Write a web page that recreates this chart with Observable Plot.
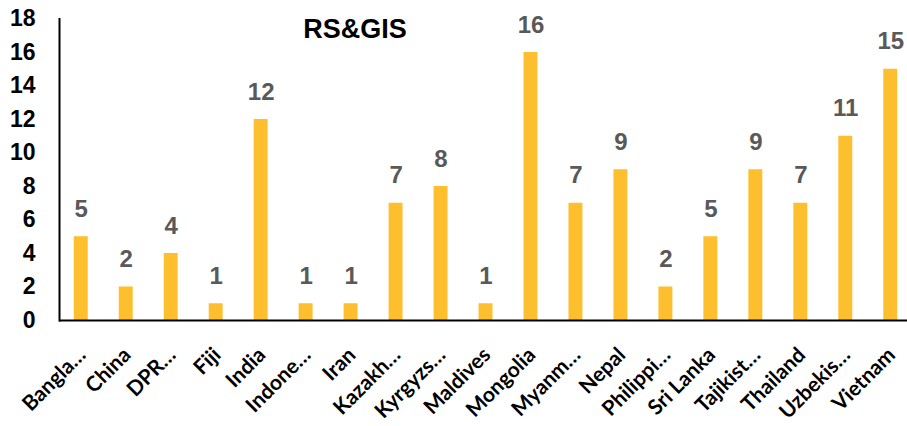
<!DOCTYPE html>
<html>
<head>
<meta charset="utf-8">
<script src="https://cdn.jsdelivr.net/npm/d3@7"></script>
<script src="https://cdn.jsdelivr.net/npm/@observablehq/plot@0.6"></script>
<style>
  html, body { margin: 0; padding: 0; background: #fff; }
  #chart { width: 907px; height: 426px; position: relative; }
  #title { position: absolute; left: 0; top: 14px; width: 710px; text-align: center;
           font: bold 27px "Liberation Sans", Arial, sans-serif; color: #000; }
</style>
</head>
<body>
<div id="chart"><div id="title">RS&amp;GIS</div></div>
<script>
const categories = ["Bangla…", "China", "DPR…", "Fiji", "India", "Indone…", "Iran", "Kazakh…", "Kyrgyzs…", "Maldives", "Mongolia", "Myanm…", "Nepal", "Philippi…", "Sri Lanka", "Tajikist…", "Thailand", "Uzbekis…", "Vietnam"];
const values = [5, 2, 4, 1, 12, 1, 1, 7, 8, 1, 16, 7, 9, 2, 5, 9, 7, 11, 15];
const yTicks = [0, 2, 4, 6, 8, 10, 12, 14, 16, 18];

const data = categories.map((c, i) => ({country: c, value: values[i]}));

const chart = Plot.plot({
  width: 907,
  height: 426,
  marginTop: 18.5,
  marginBottom: 106,
  marginLeft: 59,
  marginRight: 0,
  x: {domain: categories, range: [58.5, 912.5], paddingInner: 0.69, paddingOuter: 0.34, round: false, axis: null},
  y: {domain: [0, 18], ticks: yTicks, axis: null},
  marks: [
    Plot.barY(data, {x: "country", y: "value", fill: "#FDBF2D"}),
    Plot.axisY({ticks: yTicks, tickSize: 0, tickPadding: 24, fontSize: 23, fontWeight: "bold",
      fontFamily: "Liberation Sans, Arial, sans-serif", fill: "#000", label: null}),
    Plot.frame({anchor: "left", stroke: "#000", strokeWidth: 2}),
    Plot.ruleY([0], {stroke: "#000", strokeWidth: 2}),
    Plot.text(data, {x: "country", y: "value", text: d => String(d.value), dy: -20, lineAnchor: "bottom",
      fill: "#595959", fontSize: 24, fontWeight: "bold", fontFamily: "Liberation Sans, Arial, sans-serif"}),
    Plot.text(data, {x: "country", y: 0, text: "country", rotate: -45, textAnchor: "end", lineAnchor: "middle",
      dx: 1, dy: 31, fill: "#000", fontSize: 21, fontWeight: "bold", fontFamily: "Lato, sans-serif"})
  ]
});
chart.style.position = "absolute";
chart.style.left = "0";
chart.style.top = "0";
chart.style.overflow = "visible";
document.getElementById("chart").appendChild(chart);
</script>
</body>
</html>
